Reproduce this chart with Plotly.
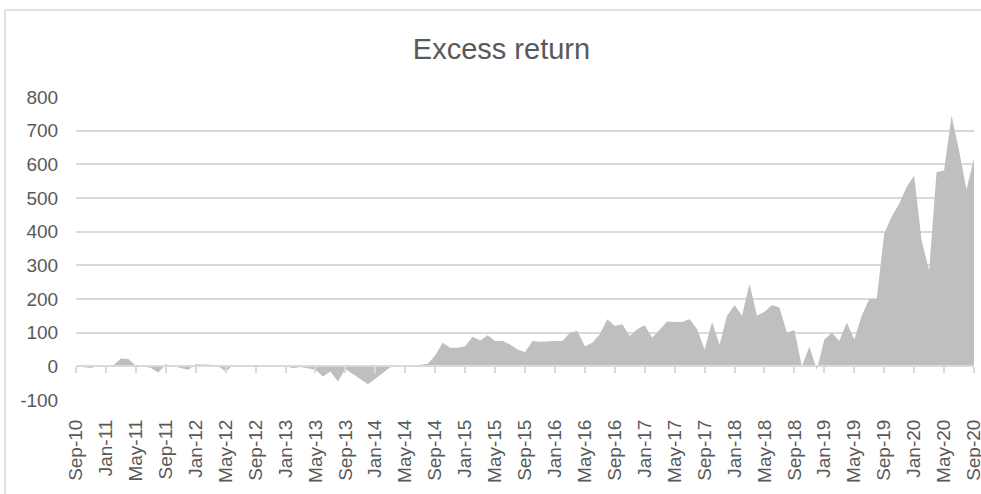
import pandas as pd
import plotly.graph_objects as go

# ---- data ----
months = list(pd.date_range("2010-09-01", periods=121, freq="MS").strftime("%b-%y"))
excess_return = [
    0, -3, -5, 3, 0, 3, 23, 22, 2, 0,
    -5, -18, 6, 0, -6, -10, 6, 6, 5, 0,
    -15, 3, 0, 0, 0, 0, 0, 3, 0, -6,
    -2, -6, -10, -30, -15, -45, -8, -23, -38, -53,
    -37, -20, -3, 0, 0, 0, 5, 8, 32, 70,
    55, 55, 60, 88, 77, 92, 75, 75, 65, 50,
    42, 75, 73, 75, 75, 75, 100, 105, 60, 70,
    95, 140, 120, 125, 90, 110, 122, 85, 108, 133,
    132, 132, 140, 110, 50, 132, 65, 150, 182, 150,
    245, 150, 162, 182, 175, 100, 108, 0, 58, -10,
    80, 100, 75, 130, 80, 150, 200, 200, 394, 445,
    483, 533, 567, 374, 285, 577, 582, 745, 641, 525,
    617,
]
tick_labels = months[::4]
y_ticks = [-100, 0, 100, 200, 300, 400, 500, 600, 700, 800]
y_tick_text = [str(v) for v in y_ticks]
title_text = "Excess return"

TEXT = "#595959"
GRID = "#d9d9d9"
FONT = "Liberation Sans, Arial, sans-serif"

fig = go.Figure()
fig.add_trace(go.Scatter(
    x=months, y=excess_return, mode="lines", fill="tozeroy",
    fillcolor="#bfbfbf", line=dict(width=0, color="#bfbfbf"),
    showlegend=False, hoverinfo="x+y",
))
# invisible trace to carry the axis drawn at zero (tick marks)
fig.add_trace(go.Scatter(
    x=months, y=excess_return, mode="none", xaxis="x2",
    showlegend=False, hoverinfo="skip",
))

fig.update_layout(
    width=981, height=494,
    margin=dict(l=76, r=7, t=97, b=94, autoexpand=False),
    paper_bgcolor="white", plot_bgcolor="white",
    font=dict(family=FONT, color=TEXT, size=19),
    title=dict(text=title_text, x=501.5 / 981, xref="container", xanchor="center",
               y=1 - 49 / 494, yref="container", yanchor="middle",
               font=dict(family=FONT, size=29, color=TEXT)),
    xaxis=dict(
        type="category", range=[0, 120], automargin=False,
        tickmode="array", tickvals=tick_labels, ticktext=tick_labels,
        tickangle=-90, ticks="outside", ticklen=11, tickcolor="rgba(0,0,0,0)",
        showgrid=False, showline=False, zeroline=False,
        tickfont=dict(family=FONT, size=19, color=TEXT),
    ),
    xaxis2=dict(
        type="category", range=[0, 120], overlaying="x", matches="x",
        anchor="free", position=1 / 9, side="bottom", automargin=False,
        tickmode="array", tickvals=tick_labels, showticklabels=False,
        ticks="outside", ticklen=6, tickwidth=1.5, tickcolor=GRID,
        showline=True, linecolor=GRID, linewidth=2,
        showgrid=False, zeroline=False,
    ),
    yaxis=dict(
        range=[-100, 800], tickmode="array", tickvals=y_ticks, ticktext=y_tick_text,
        ticks="outside", ticklen=13, tickcolor="rgba(0,0,0,0)", automargin=False,
        showgrid=True, gridcolor=GRID, gridwidth=2,
        zeroline=False, showline=False,
        tickfont=dict(family=FONT, size=19, color=TEXT),
    ),
    shapes=[dict(
        type="rect", xref="paper", yref="paper",
        x0=(5 - 76) / 898, x1=1.5, y0=-1, y1=(400 - 10) / 303,
        line=dict(color=GRID, width=1.5), fillcolor="rgba(0,0,0,0)",
        layer="below",
    )],
)

fig.write_html("out.html")
